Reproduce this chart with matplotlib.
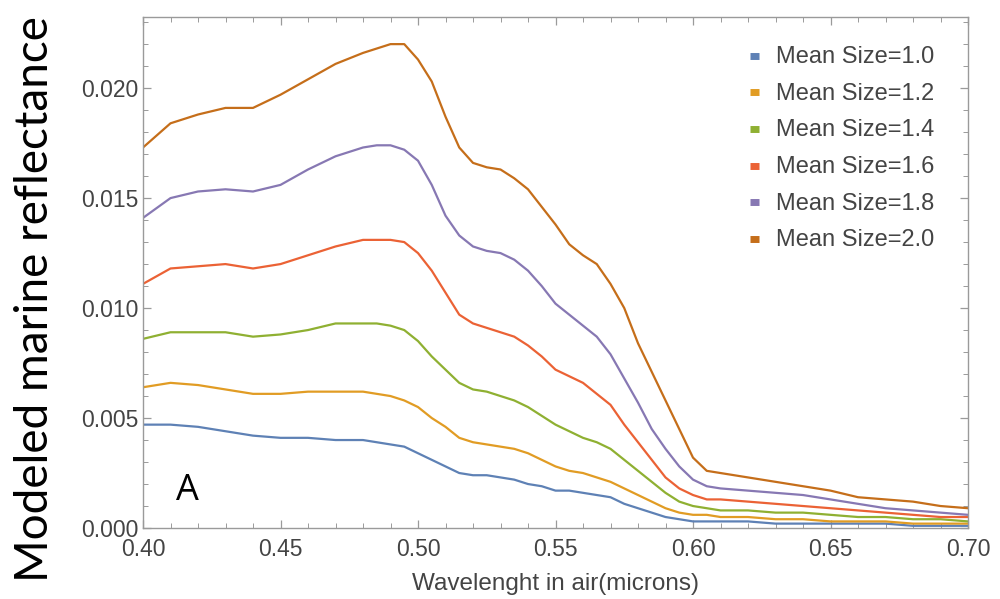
"""
Modeled marine reflectance vs wavelength for several mean particle sizes
(panel A). Values read off the reference figure.
"""
import numpy as np
import matplotlib.pyplot as plt
from matplotlib.ticker import MultipleLocator, FormatStrFormatter

wavelength = [0.40, 0.41, 0.42, 0.43, 0.44, 0.45, 0.46, 0.47, 0.48, 0.485,
              0.49, 0.495, 0.50, 0.505, 0.51, 0.515, 0.52, 0.525, 0.53, 0.535,
              0.54, 0.545, 0.55, 0.555, 0.56, 0.565, 0.57, 0.575, 0.58, 0.585,
              0.59, 0.595, 0.60, 0.605, 0.61, 0.62, 0.63, 0.64, 0.65, 0.66,
              0.67, 0.68, 0.69, 0.70]

size_10 = [.0047, .0047, .0046, .0044, .0042, .0041, .0041, .0040, .0040, .0039,
           .0038, .0037, .0034, .0031, .0028, .0025, .0024, .0024, .0023, .0022,
           .0020, .0019, .0017, .0017, .0016, .0015, .0014, .0011, .0009, .0007,
           .0005, .0004, .0003, .0003, .0003, .0003, .0002, .0002, .0002, .0002,
           .0002, .0001, .0001, .0001]
size_12 = [.0064, .0066, .0065, .0063, .0061, .0061, .0062, .0062, .0062, .0061,
           .0060, .0058, .0055, .0050, .0046, .0041, .0039, .0038, .0037, .0036,
           .0034, .0031, .0028, .0026, .0025, .0023, .0021, .0018, .0015, .0012,
           .0009, .0007, .0006, .0006, .0005, .0005, .0004, .0004, .0003, .0003,
           .0003, .0002, .0002, .0002]
size_14 = [.0086, .0089, .0089, .0089, .0087, .0088, .0090, .0093, .0093, .0093,
           .0092, .0090, .0085, .0078, .0072, .0066, .0063, .0062, .0060, .0058,
           .0055, .0051, .0047, .0044, .0041, .0039, .0036, .0031, .0026, .0021,
           .0016, .0012, .0010, .0009, .0008, .0008, .0007, .0007, .0006, .0005,
           .0005, .0004, .0004, .0003]
size_16 = [.0111, .0118, .0119, .0120, .0118, .0120, .0124, .0128, .0131, .0131,
           .0131, .0130, .0125, .0117, .0107, .0097, .0093, .0091, .0089, .0087,
           .0083, .0078, .0072, .0069, .0066, .0061, .0056, .0047, .0039, .0031,
           .0023, .0018, .0015, .0013, .0013, .0012, .0011, .0010, .0009, .0008,
           .0007, .0006, .0005, .0005]
size_18 = [.0141, .0150, .0153, .0154, .0153, .0156, .0163, .0169, .0173, .0174,
           .0174, .0172, .0167, .0156, .0142, .0133, .0128, .0126, .0125, .0122,
           .0117, .0110, .0102, .0097, .0092, .0087, .0079, .0068, .0057, .0045,
           .0036, .0028, .0022, .0019, .0018, .0017, .0016, .0015, .0013, .0011,
           .0009, .0008, .0007, .0006]
size_20 = [.0173, .0184, .0188, .0191, .0191, .0197, .0204, .0211, .0216, .0218,
           .0220, .0220, .0213, .0203, .0187, .0173, .0166, .0164, .0163, .0159,
           .0154, .0146, .0138, .0129, .0124, .0120, .0111, .0100, .0084, .0071,
           .0058, .0045, .0032, .0026, .0025, .0023, .0021, .0019, .0017, .0014,
           .0013, .0012, .0010, .0009]

labels = ["Mean Size=1.0", "Mean Size=1.2", "Mean Size=1.4",
          "Mean Size=1.6", "Mean Size=1.8", "Mean Size=2.0"]
series = [size_10, size_12, size_14, size_16, size_18, size_20]
colors = ["#5E81B5", "#E19C24", "#8FB032", "#EB6235", "#8778B3", "#C56E1A"]

plt.rcParams["font.family"] = ["Liberation Sans", "DejaVu Sans"]

fig = plt.figure(figsize=(10.0, 5.99), dpi=100)
ax = fig.add_axes([0.143, 0.1185, 0.825, 0.853])

for y, c, lab in zip(series, colors, labels):
    ax.plot(wavelength, y, color=c, lw=1.6, label=lab,
            solid_joinstyle="round")

ax.set_xlim(0.40, 0.70)
ax.set_ylim(0, 0.02323)
ax.xaxis.set_major_locator(MultipleLocator(0.05))
ax.xaxis.set_minor_locator(MultipleLocator(0.01))
ax.yaxis.set_major_locator(MultipleLocator(0.005))
ax.yaxis.set_minor_locator(MultipleLocator(0.001))
ax.xaxis.set_major_formatter(FormatStrFormatter("%.2f"))
ax.yaxis.set_major_formatter(FormatStrFormatter("%.3f"))

gray = "#9a9a9a"
for s in ax.spines.values():
    s.set_color(gray)
    s.set_linewidth(1.0)
ax.tick_params(which="both", direction="in", top=True, right=True,
               color=gray, labelcolor="#444444", labelsize=16.5)
ax.tick_params(which="major", length=6, width=0.9, pad=3)
ax.tick_params(axis="x", which="major", pad=7)
ax.tick_params(which="minor", length=3.5, width=0.7)

ax.set_xlabel("Wavelenght in air(microns)", fontsize=17.5, color="#444444",
              labelpad=9)
fig.text(0.035, 0.5, "Modeled marine reflectance", rotation=90,
         ha="center", va="center", fontsize=33, color="black",
         family=["Lato", "DejaVu Sans"])

ax.text(0.04, 0.055, "A", transform=ax.transAxes, fontsize=26,
        color="black", family=["Open Sans", "DejaVu Sans"])

leg = ax.legend(loc="upper right", bbox_to_anchor=(0.985, 0.985),
                frameon=False, fontsize=17, handlelength=0.4,
                handleheight=0.4, handletextpad=0.7, labelspacing=0.62,
                labelcolor="#444444")
for h, c in zip(leg.legend_handles, colors):
    h.set_linewidth(5)
    h.set_solid_capstyle("butt")

fig.savefig("out.png", dpi=100)
